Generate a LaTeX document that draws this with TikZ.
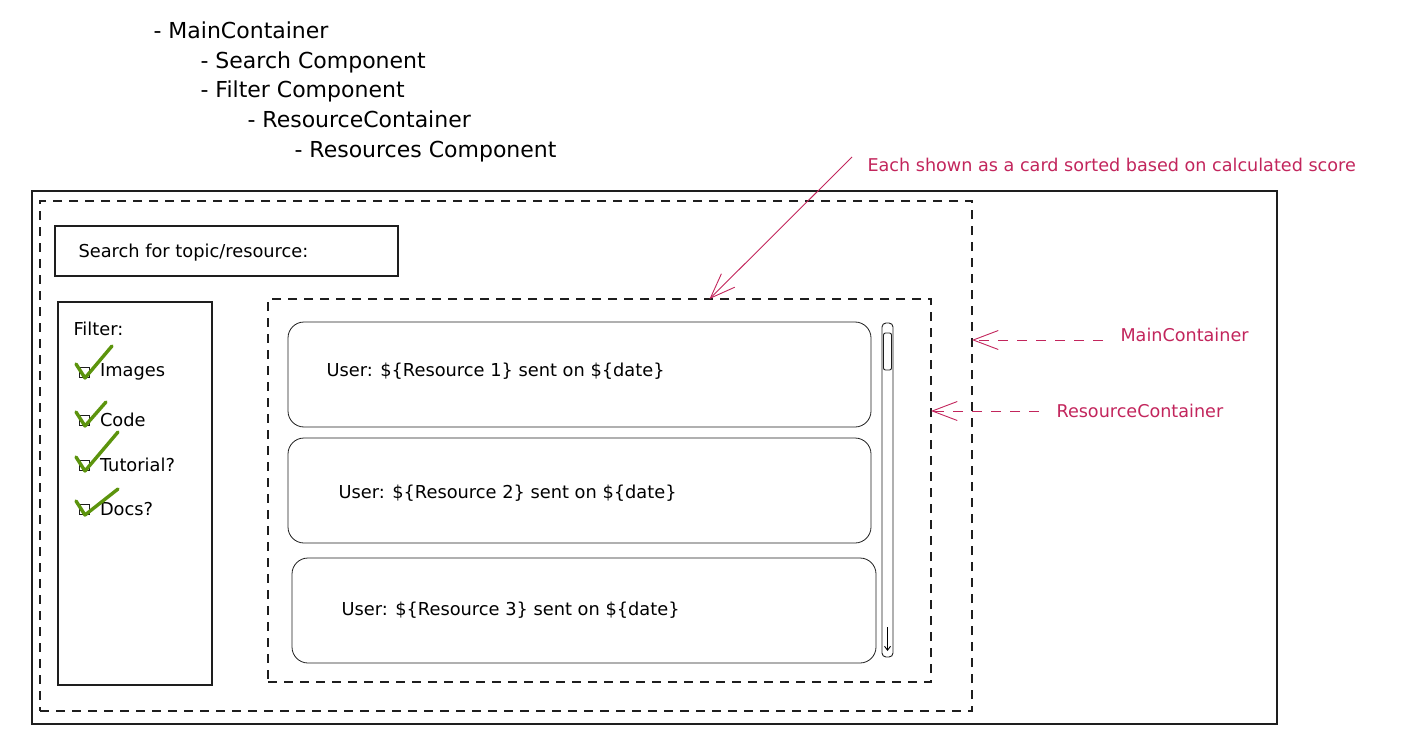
\documentclass[tikz,border=0pt]{standalone}
\usepackage{fontspec}
\setmainfont{DejaVu Sans}
\usetikzlibrary{arrows.meta,positioning,calc}
\definecolor{cNote}{RGB}{194,37,92}
\definecolor{cCheck}{RGB}{92,148,13}
\definecolor{cLine}{RGB}{30,30,30}

\begin{document}
\begin{tikzpicture}[
    x=1pt, y=-1pt,
    tree/.style={anchor=base west, font=\fontsize{22}{25}\selectfont},
    txt/.style={anchor=west, font=\fontsize{17.8}{20}\selectfont},
    frame/.style={draw=cLine, line width=1.2pt, anchor=north west, inner sep=0pt, outer sep=0pt},
    area/.style={frame, dash pattern=on 9pt off 7pt},
    card/.style={frame, line width=0.8pt, rounded corners=16pt},
    cbox/.style={draw=cLine, line width=1pt, minimum size=10pt, inner sep=0pt},
    check/.style={draw=cCheck, line width=3.4pt, line cap=round, line join=round},
    note/.style={anchor=west, text=cNote, font=\fontsize{17.6}{20}\selectfont},
    notearrow/.style={draw=cNote, line width=0.9pt, -{Straight Barb[length=25pt,width=19pt]}},
]
\useasboundingbox (0,0) rectangle (1410,738);

% --- component tree
\node[tree] (tmain) at (150,39) {- MainContainer};
\node[tree] (tsearch) at (197,69) {- Search Component};
\node[tree] (tfilter) at (197,98) {- Filter Component};
\node[tree] (tres) at (244,128) {- ResourceContainer};
\node[tree] (tcomp) at (291,158) {- Resources Component};

% --- containers
\node[frame, minimum width=1245pt, minimum height=533pt] (app) at (32,191) {};
\node[area, minimum width=932pt, minimum height=510pt] (main) at (40,201) {};
\node[frame, minimum width=343pt, minimum height=50pt] (search) at (55,226) {};
\node[txt] (searchlbl) at (75,253) {Search for topic/resource:};
\node[frame, minimum width=154pt, minimum height=383pt] (filter) at (58,302) {};
\node[area, minimum width=663pt, minimum height=383pt] (res) at (268,299) {};

% --- filter entries
\node[txt] (filterlbl) at (70,329) {Filter:};
\foreach \i/\y/\t/\ex/\ey in {1/372/Images/28/-26, 2/420/Code/22/-18,
                              3/465/Tutorial?/34/-33, 4/509/Docs?/34/-20} {
  \node[cbox] (cb\i) at (84,\y) {};
  \node[txt, right=7pt of cb\i] (item\i) {\t};
  \draw[check] ([shift={(-8,-8)}]cb\i.center) -- ([shift={(1,6)}]cb\i.center)
               -- ([shift={(\ex,\ey)}]cb\i.center);
}

% --- resource cards
\node[card, minimum width=583pt, minimum height=105pt] (card1) at (288,322) {};
\node[card, minimum width=583pt, minimum height=105pt] (card2) at (288,438) {};
\node[card, minimum width=584pt, minimum height=105pt] (card3) at (292,558) {};
\node[txt] (c1lbl) at (323,371) {User: \$\{Resource 1\} sent on \$\{date\}};
\node[txt] (c2lbl) at (335,493) {User: \$\{Resource 2\} sent on \$\{date\}};
\node[txt] (c3lbl) at (338,610) {User: \$\{Resource 3\} sent on \$\{date\}};

% --- scroll bar
\node[card, line width=0.9pt, rounded corners=4pt, minimum width=11pt, minimum height=334pt] (scroll) at (882,323) {};
\node[card, line width=0.9pt, rounded corners=2pt, minimum width=8pt, minimum height=37pt] (thumb) at (883.5,333) {};
\draw[line width=0.9pt, -{Straight Barb[length=4pt,width=6pt]}]
    ([yshift=30pt]scroll.south) -- ([yshift=6pt]scroll.south);

% --- annotations
\node[note] (mainnote) at (1117,335) {MainContainer};
\node[note] (resnote) at (1053,411) {ResourceContainer};
\node[note] (cardnote) at (864,165) {Each shown as a card sorted based on calculated score};
\coordinate (mainfrom) at ([xshift=-14pt,yshift=-5pt]mainnote.west);
\coordinate (resfrom) at ([xshift=-14pt]resnote.west);
\draw[notearrow, dash pattern=on 10pt off 9pt] (mainfrom) -- (mainfrom -| main.east);
\draw[notearrow, dash pattern=on 10pt off 9pt] (resfrom) -- (resfrom -| res.east);
\draw[notearrow] ([xshift=-12pt,yshift=8pt]cardnote.west) -- ([xshift=110pt]res.north);
\end{tikzpicture}
\end{document}
